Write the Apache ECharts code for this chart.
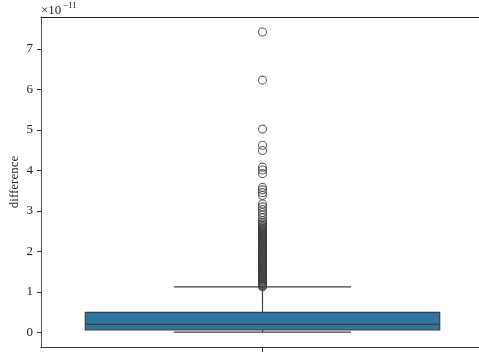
<!DOCTYPE html>
<html>
<head>
<meta charset="utf-8">
<script src="https://cdn.jsdelivr.net/npm/echarts@6/dist/echarts.min.js"></script>
<style>html,body{margin:0;padding:0;background:#fff}#c{width:479px;height:354px}</style>
</head>
<body>
<div id="c"></div>
<script>
// values in units of 1e-11
const categories = [''];
const boxStats = [[0, 0.003, 0.057, 0.198, 0.494, 1.12]]; // [cat, lowerWhisker, q1, median, q3, upperWhisker]
const outliers = [7.42, 6.23, 5.02, 4.62, 4.49, 4.08, 4.01, 3.92, 3.58, 3.52, 3.45, 3.38, 3.17, 3.10, 3.03, 2.96, 2.90, 2.83, 2.76, 2.71,
  2.67, 2.64, 2.61, 2.58, 2.56, 2.54, 2.52, 2.50, 2.48, 2.46, 2.44, 2.42, 2.40, 2.38, 2.36, 2.34, 2.32, 2.30, 2.28, 2.26, 2.24, 2.22,
  2.20, 2.18, 2.16, 2.14, 2.12, 2.10, 2.08, 2.06, 2.04, 2.02, 2.00, 1.98, 1.96, 1.94, 1.92, 1.90, 1.88, 1.86, 1.84, 1.82, 1.80, 1.78,
  1.76, 1.74, 1.72, 1.70, 1.68, 1.66, 1.64, 1.62, 1.60, 1.58, 1.56, 1.54, 1.52, 1.50, 1.48, 1.46, 1.44, 1.42, 1.40, 1.38, 1.36, 1.34,
  1.32, 1.30, 1.28, 1.26, 1.24, 1.22, 1.20, 1.18, 1.16, 1.14, 1.13];
const yTicks = [0, 1, 2, 3, 4, 5, 6, 7];

const FONT = 'Liberation Serif';
const EDGE = '#3f3f3f';
const chart = echarts.init(document.getElementById('c'), null, {renderer: 'canvas'});

function renderBox(params, api) {
  const x = api.value(0);
  const band = api.size([1, 0])[0];
  const lo = api.coord([x, api.value(1)]);
  const q1 = api.coord([x, api.value(2)]);
  const med = api.coord([x, api.value(3)]);
  const q3 = api.coord([x, api.value(4)]);
  const hi = api.coord([x, api.value(5)]);
  const cx = lo[0];
  const bw = band * 0.8, cw = band * 0.4;
  const ls = {stroke: EDGE, lineWidth: 1.2};
  return {
    type: 'group',
    children: [
      {type: 'line', shape: {x1: cx, y1: q1[1], x2: cx, y2: lo[1]}, style: ls},
      {type: 'line', shape: {x1: cx, y1: q3[1], x2: cx, y2: hi[1]}, style: ls},
      {type: 'line', shape: {x1: cx - cw / 2, y1: lo[1], x2: cx + cw / 2, y2: lo[1]}, style: ls},
      {type: 'line', shape: {x1: cx - cw / 2, y1: hi[1], x2: cx + cw / 2, y2: hi[1]}, style: ls},
      {type: 'rect', shape: {x: cx - bw / 2, y: q3[1], width: bw, height: q1[1] - q3[1]}, style: {fill: '#3274a1', stroke: EDGE, lineWidth: 1.2}},
      {type: 'line', shape: {x1: cx - bw / 2, y1: med[1], x2: cx + bw / 2, y2: med[1]}, style: ls}
    ]
  };
}

chart.setOption({
  animation: false,
  grid: {left: 41, right: -5, top: 17, bottom: 7, show: false, outerBoundsMode: 'none', containLabel: false},
  xAxis: [{
    type: 'category', data: categories, position: 'bottom',
    axisLine: {show: true, onZero: false, lineStyle: {color: '#333', width: 1}},
    axisTick: {show: true, alignWithLabel: true, length: 5, lineStyle: {color: '#333'}},
    axisLabel: {show: false},
    splitLine: {show: false}
  }, {
    type: 'category', data: categories, position: 'top',
    axisLine: {show: true, onZero: false, lineStyle: {color: '#222', width: 1}},
    axisTick: {show: false}, axisLabel: {show: false}, splitLine: {show: false}
  }],
  yAxis: {
    type: 'value', min: -0.363, max: 7.79,
    name: 'difference', nameLocation: 'middle', nameRotate: 90, nameGap: 20, nameMoveOverlap: false,
    nameTextStyle: {fontFamily: FONT, fontSize: 13, color: '#222'},
    axisLine: {show: true, onZero: false, lineStyle: {color: '#555', width: 1}},
    axisTick: {show: true, length: 4, customValues: yTicks, lineStyle: {color: '#333'}},
    axisLabel: {customValues: yTicks, fontFamily: FONT, fontSize: 13, color: '#222', margin: 8},
    splitLine: {show: false}
  },
  graphic: [
    {type: 'text', left: 41, top: 4, style: {text: '×10', font: '13px "Liberation Serif"', fill: '#222'}},
    {type: 'text', left: 63, top: 1, style: {text: '−11', font: '9px "Liberation Serif"', fill: '#222'}}
  ],
  series: [
    {type: 'custom', renderItem: renderBox, data: boxStats, encode: {x: 0, y: [1, 2, 3, 4, 5]}, z: 2},
    {type: 'scatter', data: outliers.map(v => [0, v]), symbol: 'circle', symbolSize: 8,
      itemStyle: {color: 'rgba(0,0,0,0)', borderColor: EDGE, borderWidth: 1.1}, z: 3}
  ]
});
</script>
</body>
</html>
